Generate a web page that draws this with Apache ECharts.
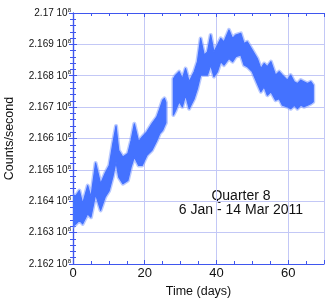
<!DOCTYPE html>
<html>
<head>
<meta charset="utf-8">
<script src="https://cdn.jsdelivr.net/npm/echarts@6/dist/echarts.min.js"></script>
<style>html,body{margin:0;padding:0;background:#fff}#c{width:327px;height:302px}</style>
</head>
<body>
<div id="c"></div>
<script>
// Values in units of 10^8 counts/second, time in days
var days1 = [0, 0.85, 1.78, 2.7, 4.1, 5.0, 6.3, 7.7, 9.0, 10.1, 11.1, 12.0, 12.75, 13.9, 15.3, 16.2, 17.1, 18.3, 19.3, 20.6, 22.0, 23.4, 24.2, 25.0, 25.5, 25.9];
var high1 = [2.16419, 2.16418, 2.16434, 2.16392, 2.16450, 2.16413, 2.16522, 2.16456, 2.16490, 2.16514, 2.16584, 2.16640, 2.16562, 2.16541, 2.16552, 2.16594, 2.16647, 2.16590, 2.16605, 2.16621, 2.16647, 2.16669, 2.16695, 2.16722, 2.16728, 2.16715];
var low1 = [2.16320, 2.16328, 2.16339, 2.16328, 2.16360, 2.16349, 2.16422, 2.16371, 2.16414, 2.16434, 2.16477, 2.16525, 2.16477, 2.16456, 2.16466, 2.16509, 2.16541, 2.16514, 2.16514, 2.16546, 2.16562, 2.16594, 2.16616, 2.16626, 2.16640, 2.16650];

var days2 = [28.0, 28.65, 29.6, 30.5, 31.4, 32.4, 33.8, 34.7, 35.6, 36.6, 37.5, 38.4, 39.3, 40.3, 41.2, 42.1, 43.5, 44.5, 45.4, 46.8, 47.7, 48.6, 50.0, 51.4, 52.4, 53.3, 54.2, 55.2, 56.5, 57.5, 58.4, 59.8, 60.7, 61.7, 62.6, 63.5, 64.4, 65.4, 66.3, 67.0];
var high2 = [2.16790, 2.16802, 2.16813, 2.16791, 2.16823, 2.16781, 2.16813, 2.16845, 2.16919, 2.16866, 2.16876, 2.16930, 2.16876, 2.16898, 2.16919, 2.16908, 2.16946, 2.16919, 2.16930, 2.16935, 2.16903, 2.16908, 2.16882, 2.16855, 2.16823, 2.16839, 2.16829, 2.16845, 2.16802, 2.16813, 2.16802, 2.16786, 2.16802, 2.16781, 2.16775, 2.16786, 2.16781, 2.16775, 2.16781, 2.16770];
var low2 = [2.16675, 2.16690, 2.16717, 2.16701, 2.16738, 2.16695, 2.16727, 2.16759, 2.16802, 2.16802, 2.16802, 2.16834, 2.16797, 2.16813, 2.16845, 2.16834, 2.16855, 2.16845, 2.16861, 2.16866, 2.16834, 2.16829, 2.16813, 2.16775, 2.16749, 2.16765, 2.16738, 2.16749, 2.16722, 2.16727, 2.16706, 2.16701, 2.16695, 2.16706, 2.16695, 2.16706, 2.16701, 2.16706, 2.16711, 2.16717];

var yMin = 2.162, yMax = 2.170, yStep = 0.001;
var xMin = 0, xMax = 70, xStep = 20;
var titleLines = ['Quarter 8', '6 Jan - 14 Mar 2011'];
var xName = 'Time (days)', yName = 'Counts/second';

var BLUE = '#4472ff';
var AXIS = '#3f56ee';
var GRID = '#c3c8f6';
var FONT = 'Liberation Sans';

function bandSeries(days, low, high) {
  return {
    type: 'custom', silent: true, clip: true,
    data: days.map(function (d, i) { return [d, low[i], high[i]]; }),
    encode: { x: 0, y: [1, 2] },
    renderItem: function (params, api) {
      if (params.dataIndex !== 0) return null;
      var pts = [], i;
      for (i = 0; i < days.length; i++) pts.push(api.coord([days[i], high[i]]));
      for (i = days.length - 1; i >= 0; i--) pts.push(api.coord([days[i], low[i]]));
      return { type: 'group', children: [
        { type: 'polygon', shape: { points: pts },
          style: { fill: 'none', stroke: '#7f9dff', lineWidth: 4, opacity: 0.55, lineJoin: 'round' } },
        { type: 'polygon', shape: { points: pts },
          style: { fill: BLUE, stroke: BLUE, lineWidth: 1.2, lineJoin: 'round' } }
      ] };
    }
  };
}

function tickSet(split) {
  return {
    axisLine: { show: true, lineStyle: { color: AXIS, width: 1.2 } },
    axisTick: { show: true, inside: true, length: 4, lineStyle: { color: AXIS } },
    minorTick: { show: true, splitNumber: split, length: 3, lineStyle: { color: AXIS } }
  };
}

var chart = echarts.init(document.getElementById('c'), null, { renderer: 'canvas' });
chart.setOption({
  animation: false,
  grid: { left: 73, right: 3, top: 13, bottom: 38, containLabel: false, outerBoundsMode: 'none' },
  xAxis: [
    Object.assign({ type: 'value', min: xMin, max: xMax, interval: xStep, position: 'bottom',
      name: xName, nameLocation: 'middle', nameGap: 21,
      nameTextStyle: { fontFamily: FONT, fontSize: 12.5, color: '#111' },
      axisLabel: { fontFamily: FONT, fontSize: 13, color: '#111', margin: 3, showMaxLabel: false },
      splitLine: { show: true, lineStyle: { color: GRID, width: 1 } }
    }, tickSet(4)),
    Object.assign({ type: 'value', min: xMin, max: xMax, interval: xStep, position: 'top',
      axisLabel: { show: false }, splitLine: { show: false } }, tickSet(4))
  ],
  yAxis: [
    Object.assign({ type: 'value', min: yMin, max: yMax, interval: yStep, position: 'left',
      name: yName, nameLocation: 'middle', nameGap: 57, nameRotate: 90,
      nameTextStyle: { fontFamily: FONT, fontSize: 12.5, color: '#111' },
      axisLabel: { margin: 2, fontFamily: FONT, color: '#111',
        formatter: function (v) { return '{a|' + String(+(+v).toFixed(3)) + ' 10}{s|8}'; },
        rich: { a: { fontFamily: FONT, fontSize: 10, color: '#111', lineHeight: 12 },
                s: { fontFamily: FONT, fontSize: 6, color: '#111', lineHeight: 12, verticalAlign: 'top', padding: [0, 0, 5, 0] } } },
      splitLine: { show: true, lineStyle: { color: GRID, width: 1 } }
    }, tickSet(5)),
    Object.assign({ type: 'value', min: yMin, max: yMax, interval: yStep, position: 'right',
      axisLabel: { show: false }, splitLine: { show: false } }, tickSet(5))
  ],
  series: [bandSeries(days1, low1, high1), bandSeries(days2, low2, high2)],
  graphic: [
    { type: 'text', x: 241, y: 189, style: { text: titleLines.join('\n'), fontFamily: FONT, fontSize: 14, lineHeight: 14, fill: '#111', align: 'center', textAlign: 'center' } }
  ]
});
</script>
</body>
</html>
